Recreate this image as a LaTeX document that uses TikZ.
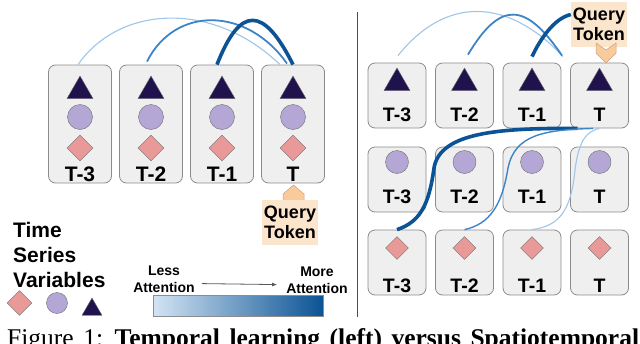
\documentclass[tikz,border=0pt]{standalone}
\usepackage{fontspec}
\setmainfont{Liberation Sans}
\newfontfamily\capfont{Liberation Serif}
\usetikzlibrary{shapes.geometric,arrows.meta}

\definecolor{cellgray}{HTML}{EFEFEF}
\definecolor{cellline}{HTML}{8C8C8C}
\definecolor{symline}{HTML}{6E6E6E}
\definecolor{navytri}{HTML}{20124D}
\definecolor{lavcirc}{HTML}{B4A7D6}
\definecolor{pinkdiam}{HTML}{EA9999}
\definecolor{peach}{HTML}{FCE5CD}
\definecolor{peachdark}{HTML}{F9CB9C}
\definecolor{peachline}{HTML}{C9A27E}
\definecolor{attlow}{HTML}{9FC5E8}
\definecolor{attmid}{HTML}{3D85C6}
\definecolor{atthigh}{HTML}{0B5394}
\definecolor{barlow}{HTML}{D3E4F4}

\tikzset{
  cell/.style={draw=cellline, fill=cellgray, rounded corners=7pt, line width=0.8pt, inner sep=0pt},
  trinode/.style={regular polygon, regular polygon sides=3, draw=symline, fill=navytri, line width=0.4pt, inner sep=0pt, minimum size=30pt},
  circnode/.style={circle, draw=symline, fill=lavcirc, line width=0.4pt, inner sep=0pt, minimum size=25pt},
  diamnode/.style={diamond, draw=symline, fill=pinkdiam, line width=0.4pt, inner sep=0pt, minimum size=26pt},
  trir/.style={trinode},
  circr/.style={circnode, minimum size=23pt},
  diamr/.style={diamnode, minimum size=23pt},
  lbll/.style={font=\fontsize{21}{24}\selectfont\bfseries, inner sep=0pt, anchor=base},
  lblr/.style={font=\fontsize{19.5}{22}\selectfont\bfseries, inner sep=0pt, anchor=base},
  qbox/.style={fill=peach, align=center, inner sep=1pt, minimum width=56pt, minimum height=45pt, font=\fontsize{18}{20}\selectfont\bfseries},
  qarrow/.style={draw=peachline, fill=peachdark, line width=0.5pt, line join=round},
  weaklink/.style={attlow, line width=1.1pt},
  midlink/.style={attmid, line width=1.8pt},
  stronglink/.style={atthigh, line width=3.6pt},
  legtext/.style={font=\fontsize{21}{25}\selectfont\bfseries, align=left, inner sep=0pt},
  atttext/.style={font=\fontsize{14}{17}\selectfont\bfseries, align=center, inner sep=0pt, anchor=north},
  attarrow/.style={draw=black!65, line width=0.8pt, -{Latex[length=5pt,width=4pt]}},
  divline/.style={draw=black!70, line width=1pt}
}

\begin{document}
\begin{tikzpicture}[x=1pt,y=-1pt]
  \useasboundingbox (0,0) rectangle (640,343);

  % temporal panel
  \foreach \lbl [count=\i from 0] in {T-3,T-2,T-1,T} {
    \node[cell, minimum width=63pt, minimum height=118pt] (lbox\i) at (80+71*\i,124) {};
    \node[trinode] (ltri\i) at (80+71*\i,91) {};
    \node[circnode] (lcirc\i) at (80+71*\i,117) {};
    \node[diamnode] (ldiam\i) at (80+71*\i,148) {};
    \node[lbll] (llab\i) at (80+71*\i,181) {\lbl};
  }
  \draw[weaklink] ([xshift=-2pt]lbox0.north) .. controls +(42,-60) and +(-66.5,-64) .. ([xshift=-13pt]lbox3.north);
  \draw[midlink] ([xshift=-4pt,yshift=3pt]lbox1.north) .. controls +(28,-56) and +(-40,-57) .. ([xshift=-6pt,yshift=1pt]lbox3.north);
  \draw[stronglink] ([xshift=-5pt]lbox2.north) .. controls +(23,-59) and +(-29.5,-59) .. (lbox3.north);

  \draw[qarrow] (283,204) -- (283,194) -- (293.5,185) -- (304,194) -- (304,204) -- cycle;
  \node[qbox] (lquery) at (290,222.5) {Query\\Token};

  % legend
  \node[legtext, anchor=north west] (legend) at (13,222) {Time\\Series\\Variables};
  \node[diamnode, minimum size=25pt] (legdiam) at (19.5,303) {};
  \node[circnode, minimum size=21pt] (legcirc) at (57,303) {};
  \node[trinode, minimum size=23pt] (legtri) at (92,309.5) {};

  \node[atttext] (lessatt) at (164,266) {Less\\Attention};
  \node[atttext] (moreatt) at (317,267) {More\\Attention};
  \draw[attarrow] ([xshift=7pt,yshift=-4pt]lessatt.east) -- ([xshift=-9pt,yshift=-4pt]moreatt.west);
  \node[draw=cellline, line width=0.8pt, left color=barlow, right color=atthigh, minimum width=170pt, minimum height=21pt, inner sep=0pt] (attbar) at (238,305.5) {};

  \draw[divline] (357,12) -- (357,317);

  % spatiotemporal panel
  \foreach \rw/\by/\sy/\ly/\shp in {0/95.5/83/121/trir, 1/179.5/162/203/circr, 2/262.5/248/292/diamr}
    \foreach \lbl [count=\cl from 0] in {T-3,T-2,T-1,T} {
      \node[cell, minimum width=58pt, minimum height=65pt] (rbox\rw\cl) at (397+67.5*\cl,\by) {};
      \node[\shp] (rsym\rw\cl) at (397+67.5*\cl,\sy) {};
      \node[lblr] (rlab\rw\cl) at (397+67.5*\cl,\ly) {\lbl};
    }

  \node[qbox] (rquery) at (599,24.5) {Query\\Token};
  \draw[qarrow] (596,43) -- (606,50) -- (616,43) -- (616,53) -- (606,63) -- (596,53) -- cycle;

  \draw[weaklink] ([xshift=1pt,yshift=7pt]rbox00.north) .. controls +(47,-59) and +(-56,-60) .. ([xshift=31pt,yshift=6pt]rbox02.north);
  \draw[midlink] ([xshift=3.5pt,yshift=8pt]rbox01.north) .. controls +(32,-53.5) and +(-37,-54.5) .. ([xshift=30pt,yshift=7pt]rbox02.north);
  \draw[stronglink] ([yshift=6pt]rbox02.north) .. controls +(8,-17) and +(-17,4) .. ([yshift=10pt]rquery.west);

  \draw[stronglink] ([xshift=-22pt]rbox03.south) .. controls (500,128) and (440,132) .. (434,168)
    .. controls (429,205) and (420,222) .. (rbox20.north);
  \draw[midlink, line width=1.4pt] ([xshift=-6.5pt]rbox03.south) .. controls (545,130) and (515,134) .. (508,168)
    .. controls (502,205) and (490,224) .. (rbox21.north);
  \draw[weaklink] (rbox03.south) .. controls (588,131) and (579,138) .. (575,170)
    .. controls (571,210) and (560,226) .. (rbox22.north);

  \node[anchor=base west, inner sep=0pt, font={\capfont\fontsize{25.5}{30}\selectfont\spaceskip=9.5pt\relax}] (caption) at (7,346)
    {Figure 1: \textbf{Temporal learning (left) versus Spatiotemporal}};
\end{tikzpicture}
\end{document}
